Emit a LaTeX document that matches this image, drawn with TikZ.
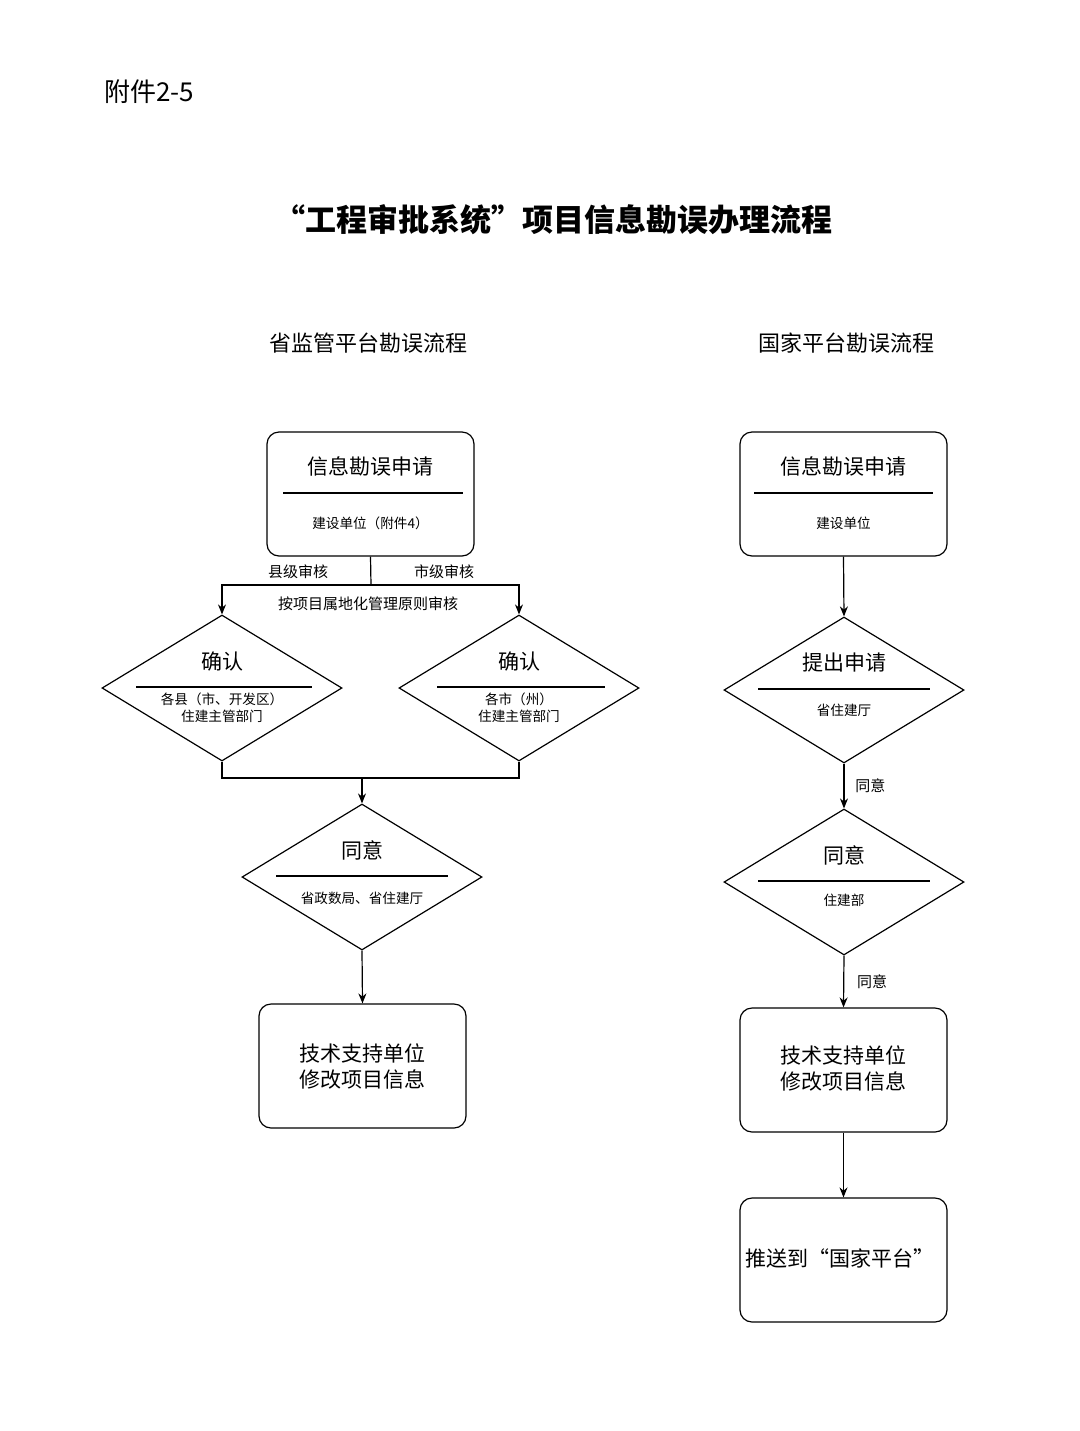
\documentclass[tikz,border=0pt]{standalone}
\usepackage{fontspec}
\setmainfont{Noto Sans CJK SC}
\usetikzlibrary{shapes.geometric,arrows.meta}
\tikzset{
  box/.style={draw,rounded corners=6pt,minimum width=103.5pt,minimum height=62pt,line width=0.6pt},
  dia/.style={draw,diamond,minimum width=120pt,minimum height=73pt,inner sep=0pt,line width=0.6pt},
  head/.style={font=\fontsize{10.5pt}{13pt}\selectfont,align=center},
  sub/.style={font=\fontsize{6.8pt}{8.5pt}\selectfont,align=center},
  lab/.style={font=\fontsize{7.5pt}{9pt}\selectfont},
  arr/.style={-{Stealth[length=5pt,width=4pt]},line width=0.6pt},
  ln/.style={line width=0.6pt}
}
\begin{document}
\begin{tikzpicture}[x=0.5pt,y=-0.5pt]
\fill[white] (0,0) rectangle (1080,1431);
\useasboundingbox (0,0) rectangle (1080,1431);
\node[anchor=west,font=\fontsize{13pt}{15pt}\selectfont] (att) at (97,92) {附件2-5};
\node[font=\fontsize{15.5pt}{18pt}\selectfont\bfseries] (title) at (553,220) {“工程审批系统”项目信息勘误办理流程};
\node[font=\fontsize{11pt}{13pt}\selectfont] (lt) at (368,343) {省监管平台勘误流程};
\node[font=\fontsize{11pt}{13pt}\selectfont] (rt) at (846,343) {国家平台勘误流程};

% left column
\node[box] (la) at (370.5,494) {};
\node[head] at (370.5,466) {信息勘误申请};
\draw[ln] (283,493) -- (463,493);
\node[sub] at (370.5,523) {建设单位（附件4）};

\node[dia] (ld1) at (222,688) {};
\node[head] at (222,661) {确认};
\draw[ln] (136,687) -- (312,687);
\node[sub] at (222,708) {各县（市、开发区）\\住建主管部门};
\node[dia] (ld2) at (519,688) {};
\node[head] at (519,661) {确认};
\draw[ln] (437,687) -- (605,687);
\node[sub] at (519,708) {各市（州）\\住建主管部门};

\coordinate (ls) at (371,585);
\draw[ln] (la.south) -- (ls);
\draw[ln,arr] (ls) -| (ld1.north);
\draw[ln,arr] (ls) -| (ld2.north);
\node[lab] at (298,572) {县级审核};
\node[lab] at (444,572) {市级审核};
\node[lab] at (368,604) {按项目属地化管理原则审核};

\node[dia] (ld3) at (362,877) {};
\node[head] at (362,850) {同意};
\draw[ln] (276,876) -- (448,876);
\node[sub] at (362,898) {省政数局、省住建厅};
\coordinate (lm) at (362,778);
\draw[ln] (ld1.south) |- (lm) -| (ld2.south);
\draw[arr] (lm) -- (ld3.north);

\node[box] (lb) at (362.5,1066) {};
\node[head] at (362.5,1066) {技术支持单位\\修改项目信息};
\draw[arr] (ld3.south) -- (lb.north);

% right column
\node[box] (ra) at (843.5,494) {};
\node[head] at (843.5,466) {信息勘误申请};
\draw[ln] (754,493) -- (933,493);
\node[sub] at (843.5,523) {建设单位};

\node[dia] (rd1) at (844,690) {};
\node[head] at (844,663) {提出申请};
\draw[ln] (758,689) -- (930,689);
\node[sub] at (844,710) {省住建厅};
\draw[arr] (ra.south) -- (rd1.north);

\node[dia] (rd2) at (844,882) {};
\node[head] at (844,855) {同意};
\draw[ln] (758,881) -- (930,881);
\node[sub] at (844,900) {住建部};
\draw[arr] (rd1.south) -- node[lab,right,xshift=2pt] {同意} (rd2.north);

\node[box] (rb) at (843.5,1070) {};
\node[head] at (843.5,1068) {技术支持单位\\修改项目信息};
\draw[arr] (rd2.south) -- node[lab,right,xshift=3pt] {同意} (rb.north);

\node[box] (rc) at (843.5,1260) {};
\node[head] at (840,1258) {推送到“国家平台”};
\draw[arr] (rb.south) -- (rc.north);
\end{tikzpicture}
\end{document}
